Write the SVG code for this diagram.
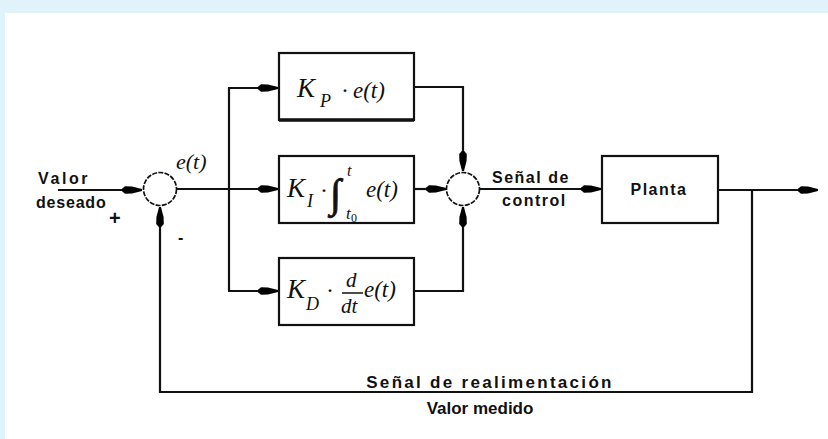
<svg xmlns="http://www.w3.org/2000/svg" width="828" height="439" viewBox="0 0 828 439">
<style>
.ln{fill:none;stroke:#111;stroke-width:2.2}
.bx{fill:#fff;stroke:#111;stroke-width:2.2}
.sum{fill:#fff;stroke:#111;stroke-width:1.7;stroke-dasharray:5 1.3}
.lb{font-family:"Liberation Sans",Arial,sans-serif;font-size:16px;font-weight:bold;letter-spacing:1.5px;fill:#111}
.m{font-family:"Liberation Serif","Times New Roman",serif;font-style:italic;fill:#111}
.n{font-style:normal}
</style>
<defs>
<marker id="ar" markerUnits="userSpaceOnUse" markerWidth="22" markerHeight="10" viewBox="-21 -5 22 10" refX="0" refY="0" orient="auto">
<path d="M-20,-1.2 L-17,-3.8 L-10,-3.6 L0,-0.9 L0,0.9 L-10,3.6 L-17,3.8 L-20,1.2 Z" fill="#000"/>
</marker>
</defs>
<rect x="0" y="0" width="828" height="13" fill="#e1f3fa"/>
<rect x="0" y="0" width="5" height="439" fill="#e1f3fa"/>
<g id="connectors">
<line class="ln" x1="58" y1="190" x2="142" y2="190" marker-end="url(#ar)"/>
<line class="ln" x1="177" y1="189" x2="229" y2="189"/>
<polyline class="ln" points="229,88 229,291"/>
<line class="ln" x1="228" y1="88" x2="278" y2="88" marker-end="url(#ar)"/>
<line class="ln" x1="229" y1="189" x2="278" y2="189" marker-end="url(#ar)"/>
<line class="ln" x1="228" y1="291" x2="278" y2="291" marker-end="url(#ar)"/>
<polyline class="ln" points="414,87 463,87 463,171" marker-end="url(#ar)"/>
<line class="ln" x1="414" y1="189" x2="446" y2="189" marker-end="url(#ar)"/>
<polyline class="ln" points="414,291 463,291 463,207" marker-end="url(#ar)"/>
<line class="ln" x1="480" y1="189" x2="601" y2="189" marker-end="url(#ar)"/>
<line class="ln" x1="718" y1="190" x2="818" y2="190" marker-end="url(#ar)"/>
<polyline class="ln" points="752,190 752,392 160,392 160,207" marker-end="url(#ar)"/>
</g>
<g id="sum1">
<circle class="sum" cx="160" cy="189" r="16.5"/>
<text class="m" x="176" y="169" font-size="22">e(t)</text>
<text class="lb" x="109" y="225" style="font-size:20px">+</text>
<text class="lb" x="178" y="243">-</text>
</g>
<g id="input-label">
<text class="lb" x="38" y="184" style="letter-spacing:2.6px">Valor</text>
<text class="lb" x="36" y="208" style="letter-spacing:0.8px">deseado</text>
</g>
<g id="kp">
<rect class="bx" x="279" y="53" width="135" height="67"/>
<line x1="279" y1="120" x2="414" y2="120" stroke="#111" stroke-width="3.5"/>
<text class="m" x="297" y="97" font-size="27">K</text>
<text class="m" x="320" y="107" font-size="18">P</text>
<text class="m n" x="341" y="98" font-size="24">·</text>
<text class="m" x="353" y="98" font-size="23">e(t)</text>
</g>
<g id="ki">
<rect class="bx" x="279" y="156" width="135" height="67"/>
<text class="m" x="287" y="197" font-size="27">K</text>
<text class="m" x="307" y="207" font-size="18">I</text>
<text class="m n" x="320" y="198" font-size="24">·</text>
<text class="m" x="330" y="207" font-size="40" stroke="#111" stroke-width="0.9">∫</text>
<text class="m" x="347" y="176" font-size="16">t</text>
<text class="m" x="346" y="219" font-size="17">t</text>
<text class="m n" x="351" y="222" font-size="12">0</text>
<text class="m" x="366" y="197" font-size="23">e(t)</text>
</g>
<g id="kd">
<rect class="bx" x="279" y="258" width="135" height="67"/>
<text class="m" x="287" y="298" font-size="27">K</text>
<text class="m" x="306" y="310" font-size="18">D</text>
<text class="m n" x="326" y="298" font-size="24">·</text>
<text class="m" x="346" y="287" font-size="21">d</text>
<line x1="342" y1="293" x2="363" y2="293" stroke="#111" stroke-width="1.5"/>
<text class="m" x="341" y="313" font-size="21">dt</text>
<text class="m" x="364" y="297" font-size="23">e(t)</text>
</g>
<g id="sum2">
<circle class="sum" cx="463" cy="189" r="16.5"/>
<text class="lb" x="492" y="183">Señal de</text>
<text class="lb" x="502" y="206">control</text>
</g>
<g id="planta">
<rect class="bx" x="602" y="156" width="116" height="67"/>
<text class="lb" x="659" y="195" text-anchor="middle">Planta</text>
</g>
<g id="feedback-label">
<text class="lb" x="490" y="388" text-anchor="middle" style="font-size:17px;letter-spacing:2.3px">Señal de realimentación</text>
<text class="lb" x="480" y="414" text-anchor="middle" style="font-size:17px;letter-spacing:0px">Valor medido</text>
</g>
</svg>
